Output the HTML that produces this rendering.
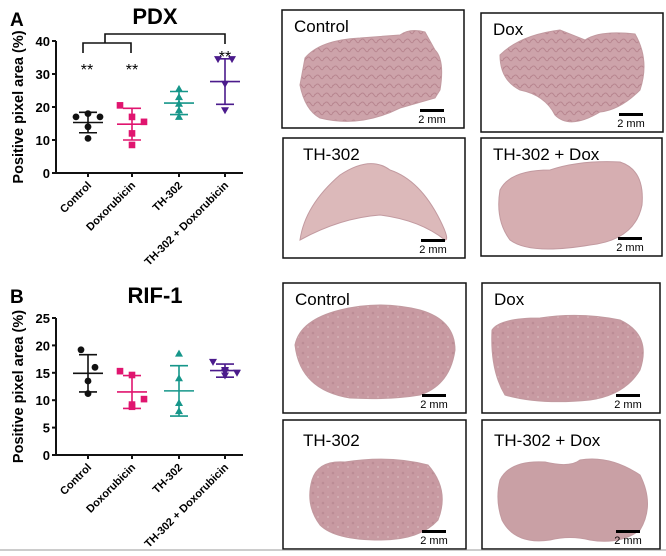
<!DOCTYPE html>
<html><head><meta charset="utf-8"><style>
body{margin:0;width:666px;height:556px;background:#fff;overflow:hidden;font-family:"Liberation Sans",Arial,sans-serif}
svg{display:block}
</style></head><body>
<svg id="fig" width="666" height="556" viewBox="0 0 666 556" font-family="Liberation Sans, Arial, sans-serif">
<defs>
<pattern id="tex" width="9" height="9" patternUnits="userSpaceOnUse"><rect width="9" height="9" fill="#cda3aa"/><path d="M0 5 Q2.5 1 5 5 T9 4" stroke="#b88690" stroke-width="1" fill="none"/></pattern>
<pattern id="tex2" width="10" height="10" patternUnits="userSpaceOnUse"><rect width="10" height="10" fill="#c89aa2"/><circle cx="3" cy="3" r="1.3" fill="#bb8c95"/><circle cx="8" cy="7" r="1.1" fill="#d2aeb3"/></pattern>
</defs>
<text x="10" y="26" font-size="19" font-weight="bold">A</text>
<text x="10" y="303" font-size="19" font-weight="bold">B</text>
<g id="chartA"></g>
<g id="chartB"></g>
<g id="images"></g>
<line x1="0" y1="550" x2="666" y2="550" stroke="#999" stroke-width="1"/>
</svg>
<script>
const categories=["Control","Doxorubicin","TH-302","TH-302 + Doxorubicin"];
const colors=["#111","#e0156f","#16968a","#4b1b8c"];
const shapes=["circle","square","triangle","tri-down"];
const pdxValues=[[17,18,17,14,10.5],[20.5,17,15.5,12,8.5],[25.5,23,21,19,17],[34.5,34.5,27,19]];
const pdxMean=[15.3,14.8,21.2,27.7];
const pdxSD=[3.1,4.8,3.5,6.9];
const pdxTicks=[0,10,20,30,40];
const rifValues=[[19.2,16,13.5,11.2],[15.3,14.6,10.2,9.2,8.8],[18.5,14,9.5,8],[17,15.5,15,14.5,15.2]];
const rifMean=[14.9,11.5,11.7,15.4];
const rifSD=[3.4,3.0,4.6,1.2];
const rifTicks=[0,5,10,15,20,25];
const NS="http://www.w3.org/2000/svg";
function mk(p,t,a){const e=document.createElementNS(NS,t);for(const k in a)e.setAttribute(k,a[k]);p.appendChild(e);return e;}
function chart(g,cfg){
  const{x0,x1,y0,y1,max,ticks,values,mean,sd,title,ty}=cfg;
  const ys=v=>y0-(v/max)*(y0-y1);
  const xs=i=>[88,132,179,225][i]+(x0-56);
  const t=mk(g,'text',{x:155,y:ty,'font-size':22,'font-weight':'bold','text-anchor':'middle'});t.textContent=title;
  
  
  const ax=mk(g,'path',{d:`M${x0} ${y1}V${y0}H${x1}`,stroke:'#111','stroke-width':2,fill:'none'});
  
  
  ticks.forEach(v=>{const y=ys(v);mk(g,'line',{x1:x0-4,x2:x0,y1:y,y2:y,stroke:'#111','stroke-width':2});
    const l=mk(g,'text',{x:x0-6,y:y+5,'font-size':13,'font-weight':'bold','text-anchor':'end'});l.textContent=v;
    
    });
  const yl=mk(g,'text',{transform:`translate(${x0-33},${(y0+y1)/2}) rotate(-90)`,'font-size':14.5,'font-weight':'bold','text-anchor':'middle'});
  yl.textContent='Positive pixel area (%)';
  
  
  categories.forEach((c,i)=>{const x=xs(i),col=colors[i];
    mk(g,'line',{x1:x,x2:x,y1:y0,y2:y0+4,stroke:'#111','stroke-width':2});
    const l=mk(g,'text',{transform:`translate(${x+4},${y0+13}) rotate(-45)`,'font-size':11,'font-weight':'bold','text-anchor':'end'});l.textContent=c;
    
    
    const grp=mk(g,'g',{});
    
    
    mk(grp,'line',{x1:x-15,x2:x+15,y1:ys(mean[i]),y2:ys(mean[i]),stroke:col,'stroke-width':1.6});
    mk(grp,'line',{x1:x,x2:x,y1:ys(mean[i]+sd[i]),y2:ys(mean[i]-sd[i]),stroke:col,'stroke-width':1.6});
    [mean[i]+sd[i],mean[i]-sd[i]].forEach(v=>mk(grp,'line',{x1:x-9,x2:x+9,y1:ys(v),y2:ys(v),stroke:col,'stroke-width':1.6}));
    const n=values[i].length;
    values[i].forEach((v,j)=>{const off=(n>=5?[-12,0,12,0,0]:[-7,7,0,0])[j]*(i==2?0:1);const px=x+off,py=ys(v);let m;
      if(shapes[i]=='circle')m=mk(grp,'circle',{cx:px,cy:py,r:3.4,fill:col});
      else if(shapes[i]=='square')m=mk(grp,'rect',{x:px-3.3,y:py-3.3,width:6.6,height:6.6,fill:col});
      else if(shapes[i]=='triangle')m=mk(grp,'path',{d:`M${px} ${py-4}L${px+4} ${py+3}L${px-4} ${py+3}Z`,fill:col});
      else m=mk(grp,'path',{d:`M${px} ${py+4}L${px+4} ${py-3}L${px-4} ${py-3}Z`,fill:col});
      
      });
  });
}
const gA=document.getElementById('chartA'),gB=document.getElementById('chartB');
chart(gA,{x0:56,x1:243,y0:173,y1:41,max:40,ticks:pdxTicks,values:pdxValues,mean:pdxMean,sd:pdxSD,title:'PDX',ty:24});
chart(gB,{x0:56,x1:243,y0:455,y1:318,max:25,ticks:rifTicks,values:rifValues,mean:rifMean,sd:rifSD,title:'RIF-1',ty:303});
const br=mk(gA,'path',{d:'M83 53V43H131V53 M105 43V34H225V44',stroke:'#111','stroke-width':1.6,fill:'none'});


[[87,75],[132,75],[225,62]].forEach(p=>{const s=mk(gA,'text',{x:p[0],y:p[1],'font-size':16,'text-anchor':'middle'});s.textContent='**';
  
  });
const panels=[
 {x:282,y:10,w:182,h:118,label:'Control',fill:'url(#tex)',d:'M305 58 Q320 40 360 38 L400 35 Q410 28 425 32 L435 50 Q445 60 440 90 L435 98 L400 108 Q360 128 320 118 Q305 110 300 85 Z'},
 {x:481,y:13,w:182,h:119,label:'Dox',fill:'url(#tex)',d:'M500 55 Q520 35 560 30 L585 40 Q600 30 635 34 Q650 60 640 90 Q620 110 600 112 Q570 130 555 115 Q545 95 520 90 Q500 80 500 55 Z'},
 {x:283,y:138,w:182,h:120,label:'TH-302',fill:'#dcb9ba',d:'M300 240 Q305 205 340 175 Q370 155 390 170 Q420 180 440 220 Q450 240 445 240 Q420 220 380 215 Q340 218 300 240 Z'},
 {x:481,y:138,w:181,h:118,label:'TH-302 + Dox',fill:'#d6aeb1',d:'M500 190 Q510 170 550 170 Q580 160 620 162 Q645 170 642 205 Q635 240 590 245 Q530 255 510 240 Q495 220 500 190 Z'},
 {x:283,y:283,w:183,h:130,label:'Control',fill:'url(#tex2)',d:'M295 345 Q300 320 340 310 Q380 300 420 310 Q455 320 455 350 Q450 385 420 395 Q390 400 350 398 Q300 390 295 345 Z'},
 {x:482,y:283,w:178,h:130,label:'Dox',fill:'url(#tex2)',d:'M492 330 Q500 318 540 318 Q580 312 620 320 Q652 335 640 370 Q625 395 590 400 Q540 405 505 395 Q490 370 492 330 Z'},
 {x:283,y:420,w:183,h:129,label:'TH-302',fill:'url(#tex2)',d:'M312 480 Q318 460 345 462 Q390 455 428 465 Q450 490 438 520 Q420 540 380 540 Q335 540 320 525 Q305 505 312 480 Z'},
 {x:482,y:420,w:178,h:129,label:'TH-302 + Dox',fill:'#c9a0a5',d:'M500 480 Q510 460 545 462 Q570 468 580 460 Q610 455 640 475 Q655 505 640 530 Q620 545 590 540 Q570 535 550 540 Q515 545 502 520 Q495 500 500 480 Z'}
];
const gi=document.getElementById('images');
panels.forEach(p=>{const g=mk(gi,'g',{});
  
  
  mk(g,'path',{d:p.d,fill:p.fill,stroke:'#c29aa0','stroke-width':1});
  mk(g,'rect',{x:p.x,y:p.y,width:p.w,height:p.h,fill:'none',stroke:'#111','stroke-width':1.5});
  const t=mk(g,'text',{x:p.x+(p.label=='TH-302'?20:12),y:p.y+(p.y>400?26:22),'font-size':17});t.textContent=p.label;
  
  
  const bx=p.x+p.w-47,by=p.y+p.h-15;
  mk(g,'rect',{x:bx+3,y:by-4,width:24,height:3,fill:'#000'});
  const s=mk(g,'text',{x:bx+15,y:by+10,'font-size':11,'text-anchor':'middle'});s.textContent='2 mm';
  
  
});
</script>
</body></html>
